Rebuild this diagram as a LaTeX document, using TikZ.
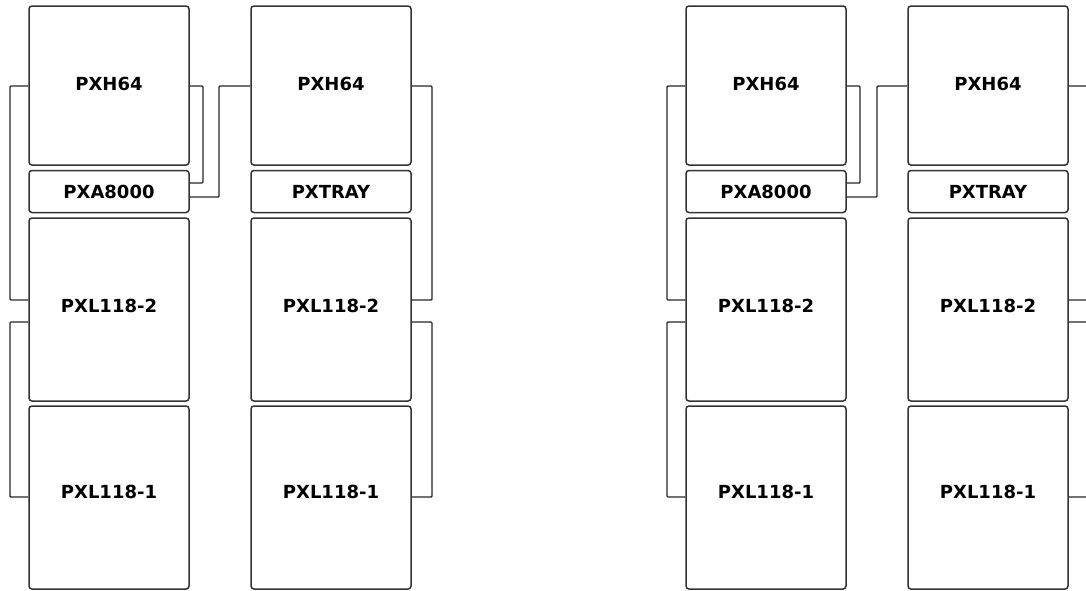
\documentclass[tikz,border=0pt]{standalone}
\usepackage{fontspec}
\setmainfont{DejaVu Sans}
\begin{document}
\begin{tikzpicture}[x=1pt,y=-1pt,
  unit/.style={draw=black!80,line width=1.5pt,rounded corners=3pt,
    minimum width=160pt,inner sep=0pt,font=\fontsize{18}{20}\selectfont\bfseries},
  big/.style={unit,minimum height=159pt,text depth=4pt},
  tall/.style={unit,minimum height=183pt,text depth=7pt},
  low/.style={unit,minimum height=183pt,text depth=11pt},
  thin/.style={unit,minimum height=42pt},
  wire/.style={draw=black!85,line width=1.4pt,rounded corners=1pt}]
\useasboundingbox (0,0) rectangle (1086,590);
\clip (0,0) rectangle (1086,590);
% left group
\node[big]  (ah) at (109,85.5)  {PXH64};
\node[thin] (aa) at (109,191.5) {PXA8000};
\node[tall] (a2) at (109,309.5) {PXL118-2};
\node[low]  (a1) at (109,497.5) {PXL118-1};
\node[big]  (bh) at (331,85.5)  {PXH64};
\node[thin] (bt) at (331,191.5) {PXTRAY};
\node[tall] (b2) at (331,309.5) {PXL118-2};
\node[low]  (b1) at (331,497.5) {PXL118-1};
% right group
\node[big]  (ch) at (766,85.5)  {PXH64};
\node[thin] (ca) at (766,191.5) {PXA8000};
\node[tall] (c2) at (766,309.5) {PXL118-2};
\node[low]  (c1) at (766,497.5) {PXL118-1};
\node[big]  (dh) at (988,85.5)  {PXH64};
\node[thin] (dt) at (988,191.5) {PXTRAY};
\node[tall] (d2) at (988,309.5) {PXL118-2};
\node[low]  (d1) at (988,497.5) {PXL118-1};
% left group wires
\draw[wire] (ah.west |- 0,86) -- (10,86) -- (10,300) -- (a2.west |- 0,300);
\draw[wire] (a2.west |- 0,322) -- (10,322) -- (10,497) -- (a1.west |- 0,497);
\draw[wire] (ah.east |- 0,86) -- (203,86) -- (203,183) -- (aa.east |- 0,183);
\draw[wire] (aa.east |- 0,197) -- (219,197) -- (219,86) -- (bh.west |- 0,86);
\draw[wire] (bh.east |- 0,86) -- (432,86) -- (432,300) -- (b2.east |- 0,300);
\draw[wire] (b2.east |- 0,322) -- (432,322) -- (432,497) -- (b1.east |- 0,497);
% right group wires
\draw[wire] (ch.west |- 0,86) -- (667,86) -- (667,300) -- (c2.west |- 0,300);
\draw[wire] (c2.west |- 0,322) -- (667,322) -- (667,497) -- (c1.west |- 0,497);
\draw[wire] (ch.east |- 0,86) -- (860,86) -- (860,183) -- (ca.east |- 0,183);
\draw[wire] (ca.east |- 0,197) -- (877,197) -- (877,86) -- (dh.west |- 0,86);
\draw[wire] (dh.east |- 0,86) -- (1090,86) -- (1090,300) -- (d2.east |- 0,300);
\draw[wire] (d2.east |- 0,322) -- (1090,322) -- (1090,497) -- (d1.east |- 0,497);
\end{tikzpicture}
\end{document}
